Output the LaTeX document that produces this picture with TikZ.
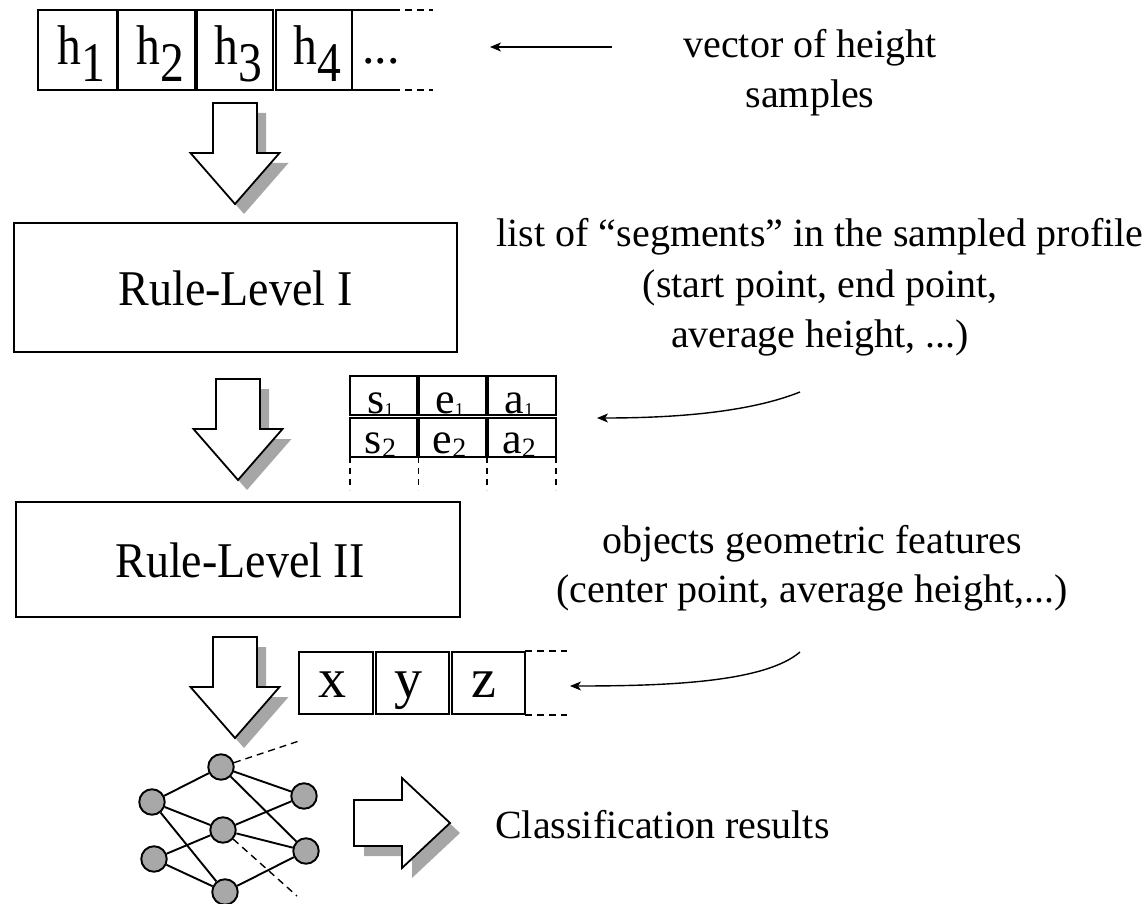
\documentclass[tikz,border=0pt]{standalone}
\usepackage{fontspec}
\setmainfont{Liberation Serif}
\usetikzlibrary{arrows.meta}
\definecolor{shadowgray}{RGB}{166,166,166}
\definecolor{nodegray}{RGB}{168,168,168}
\newcommand{\setfs}[1]{\fontsize{#1}{#1}\selectfont}
\begin{document}
\begin{tikzpicture}[x=1pt,y=-1pt,
  box/.style={draw=black,line width=1.5pt,inner sep=0pt},
  cell/.style={draw=black,line width=1.2pt,inner sep=0pt},
  blk/.style={draw=black,line width=1.8pt,fill=white,line join=miter},
  neuron/.style={circle,draw=black,line width=1.9pt,fill=nodegray,minimum size=25.5pt,inner sep=0pt},
  link/.style={line width=1.9pt},
  dlink/.style={line width=1.4pt,dash pattern=on 7pt off 5pt},
  ext/.style={line width=1.4pt,dash pattern=on 7pt off 5pt},
  thinarrow/.style={line width=1.4pt,-{Stealth[length=11pt,width=9pt,inset=3pt]}},
  txt/.style={inner sep=0pt,anchor=base},
  pics/downblock/.style={code={
    \fill[shadowgray,shift={(9,10)}] (-22,-101) -- (22,-101) -- (22,-51) -- (44.5,-51) -- (0,0) -- (-44.5,-51) -- (-22,-51) -- cycle;
    \draw[blk] (-22,-101) -- (22,-101) -- (22,-51) -- (44.5,-51) -- (0,0) -- (-44.5,-51) -- (-22,-51) -- cycle;
  }},
  pics/rightblock/.style={code={
    \fill[shadowgray,shift={(10,10)}] (-96,-23) -- (-48,-23) -- (-48,-45) -- (0,0) -- (-48,45) -- (-48,23) -- (-96,23) -- cycle;
    \draw[blk] (-96,-23) -- (-48,-23) -- (-48,-45) -- (0,0) -- (-48,45) -- (-48,23) -- (-96,23) -- cycle;
  }}
]
\useasboundingbox (0,0) rectangle (1143,904);

% ---- top vector of heights
\node[cell,minimum width=79pt,minimum height=80pt] (h1) at (77.5,50) {};
\node[cell,minimum width=77pt,minimum height=80pt] (h2) at (156.5,50) {};
\node[cell,minimum width=76pt,minimum height=80pt] (h3) at (235,50) {};
\node[cell,minimum width=76pt,minimum height=80pt] (h4) at (314,50) {};
\node[txt] (th1) at (81,65) {\setfs{56}\scalebox{0.85}[1]{h\raisebox{-17pt}{1}}};
\node[txt] (th2) at (160,65) {\setfs{56}\scalebox{0.85}[1]{h\raisebox{-17pt}{2}}};
\node[txt] (th3) at (238.5,65) {\setfs{56}\scalebox{0.85}[1]{h\raisebox{-17pt}{3}}};
\node[txt] (th4) at (317.5,65) {\setfs{56}\scalebox{0.85}[1]{h\raisebox{-17pt}{4}}};
\node[txt,anchor=base west] (hdots) at (362,64) {\setfs{50}...};
\coordinate (ht0) at (352,10); \coordinate (ht1) at (393,10); \coordinate (ht2) at (433,10);
\coordinate (hb0) at (352,90); \coordinate (hb1) at (393,90); \coordinate (hb2) at (433,90);
\draw[line width=1.2pt] (ht0) -- (ht1); \draw[ext] (ht1) -- (ht2);
\draw[line width=1.2pt] (hb0) -- (hb1); \draw[ext] (hb1) -- (hb2);

\coordinate (a1s) at (612,47); \coordinate (a1e) at (490,47);
\draw[thinarrow] (a1s) -- (a1e);
\node[txt] (v1) at (810,58) {\setfs{40}vector of height};
\node[txt] (v2) at (810,108) {\setfs{40}samples};

% ---- arrows and rule levels
\pic at (235,204) {downblock};
\node[box,minimum width=443pt,minimum height=129pt] (r1) at (235.5,287.5) {};
\node[txt] (r1t) at (235.5,305) {\setfs{50}\scalebox{0.92}[1]{Rule-Level I}};

\node[txt] (l1) at (820,247) {\setfs{40}list of “segments” in the sampled profile};
\node[txt] (l2) at (820,297) {\setfs{40}(start point, end point,};
\node[txt] (l3) at (820,347) {\setfs{40}average height, ...)};

\pic at (238,480) {downblock};

% segment table
\node[cell,minimum width=67pt,minimum height=39pt] (s1) at (383.5,395.5) {};
\node[cell,minimum width=67pt,minimum height=39pt] (e1) at (452.5,395.5) {};
\node[cell,minimum width=68pt,minimum height=39pt] (a1) at (522,395.5) {};
\node[cell,minimum width=67pt,minimum height=39pt] (s2) at (383.5,437.5) {};
\node[cell,minimum width=67pt,minimum height=39pt] (e2) at (452.5,437.5) {};
\node[cell,minimum width=68pt,minimum height=39pt] (a2) at (522,437.5) {};
\node[txt] at (380.5,413) {\setfs{44}s\raisebox{-2pt}{\setfs{18}1}};
\node[txt] at (449.5,413) {\setfs{44}e\raisebox{-2pt}{\setfs{18}1}};
\node[txt] at (519,413) {\setfs{44}a\raisebox{-2pt}{\setfs{18}1}};
\node[txt] at (380.5,453) {\setfs{44}s\raisebox{-4pt}{\setfs{28}2}};
\node[txt] at (449.5,453) {\setfs{44}e\raisebox{-4pt}{\setfs{28}2}};
\node[txt] at (519,453) {\setfs{44}a\raisebox{-4pt}{\setfs{28}2}};
\foreach \xx/\nm in {350/d1,418.5/d2,487/d3,556/d4}{
  \coordinate (\nm t) at (\xx,457); \coordinate (\nm b) at (\xx,490);
  \draw[line width=1.4pt,dash pattern=on 6pt off 5pt] (\nm t) -- (\nm b);
}
\coordinate (c2s) at (800,392); \coordinate (c2e) at (597,418);
\draw[thinarrow] (c2s) .. controls (745,414) and (665,418) .. (c2e);

\node[box,minimum width=444pt,minimum height=115pt] (r2) at (238,559.5) {};
\node[txt] (r2t) at (240,577) {\setfs{50}\scalebox{0.92}[1]{Rule-Level II}};

\node[txt] (o1) at (812,553) {\setfs{40}objects geometric features};
\node[txt] (o2) at (812,602) {\setfs{40}(center point, average height,...)};

\pic at (235,738) {downblock};

% feature vector
\node[cell,minimum width=74pt,minimum height=62pt] (fx) at (336,683) {};
\node[cell,minimum width=73pt,minimum height=62pt] (fy) at (412.5,683) {};
\node[cell,minimum width=73pt,minimum height=62pt] (fz) at (488.5,683) {};
\node[txt] at (332,697) {\setfs{56}x};
\node[txt] at (408,697) {\setfs{56}y};
\node[txt] at (484,697) {\setfs{56}z};
\coordinate (ft0) at (525,651); \coordinate (ft1) at (567,651);
\coordinate (fb0) at (525,715); \coordinate (fb1) at (567,715);
\draw[ext] (ft0) -- (ft1); \draw[ext] (fb0) -- (fb1);

\coordinate (c3s) at (800,652); \coordinate (c3e) at (570,686);
\draw[thinarrow] (c3s) .. controls (765,682) and (670,686) .. (c3e);

% neural network
\coordinate (dA) at (302,740); \coordinate (dB) at (297,896);
\node[neuron] (nt) at (221,767) {};
\node[neuron] (nlu) at (152,802) {};
\node[neuron] (nru) at (304,796) {};
\node[neuron] (nm) at (223,830) {};
\node[neuron] (nll) at (154,859) {};
\node[neuron] (nrl) at (306,851) {};
\node[neuron] (nb) at (225,892) {};
\draw[link] (nt) -- (nlu);
\draw[link] (nt) -- (nru);
\draw[link] (nt) -- (nrl);
\draw[link] (nlu) -- (nm);
\draw[link] (nlu) -- (nb);
\draw[link] (nm) -- (nru);
\draw[link] (nm) -- (nrl);
\draw[link] (nm) -- (nll);
\draw[link] (nll) -- (nb);
\draw[link] (nb) -- (nrl);
\draw[dlink] (nt) -- (dA);
\draw[dlink] (nm) -- (dB);

\pic at (450,823) {rightblock};
\node[txt,anchor=base west] (cr) at (495,838) {\setfs{40}Classification results};
\end{tikzpicture}
\end{document}
